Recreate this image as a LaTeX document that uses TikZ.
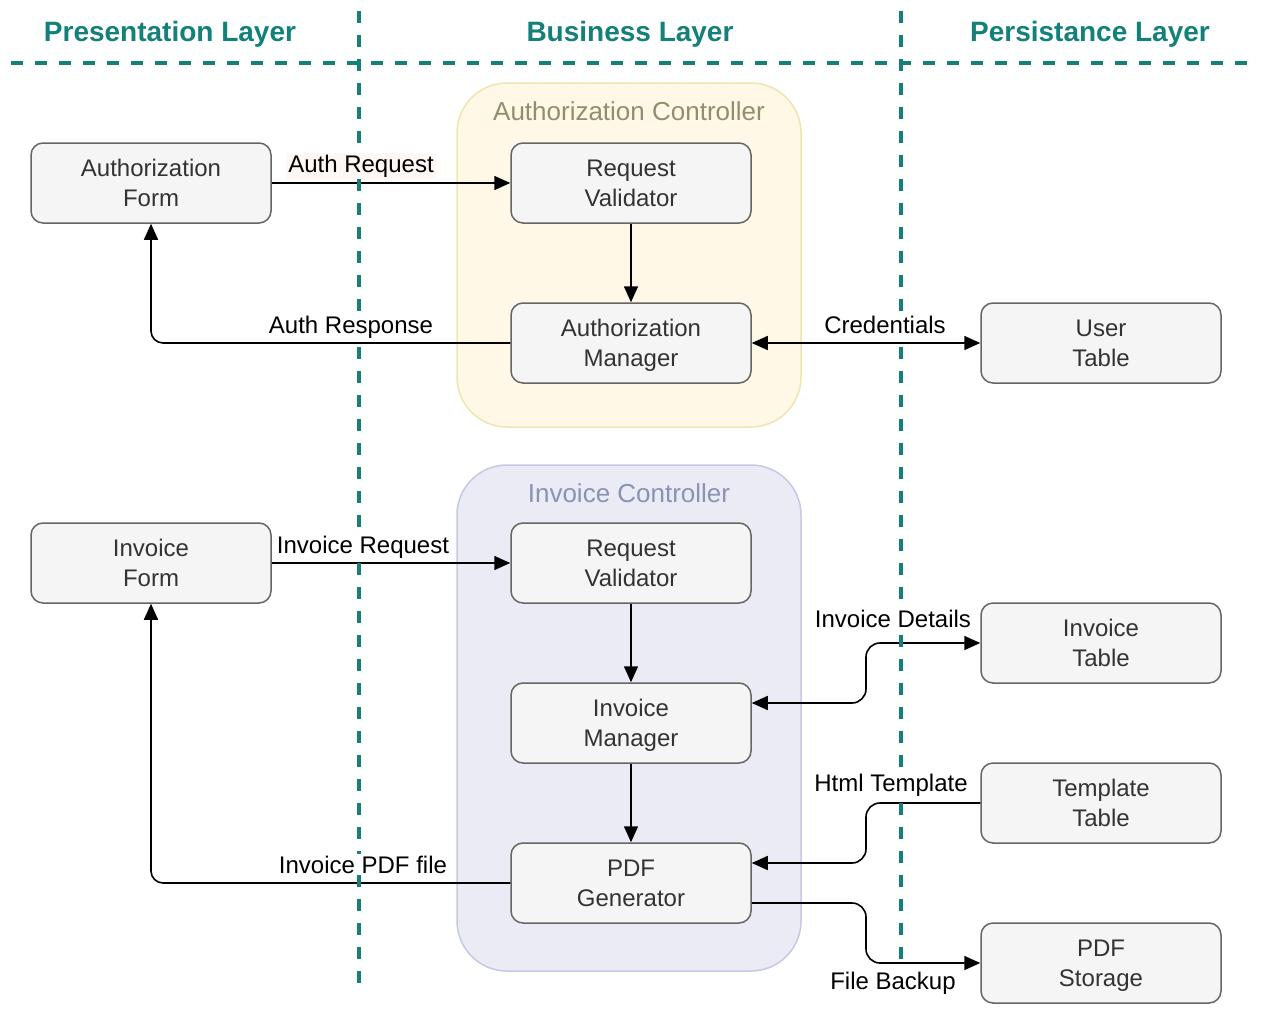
\documentclass[tikz,border=0pt]{standalone}
\usepackage{fontspec}
\setmainfont{Liberation Sans}
\usetikzlibrary{arrows.meta,calc}
\definecolor{layerc}{HTML}{13807A}
\definecolor{boxfill}{HTML}{F5F5F5}
\definecolor{boxline}{HTML}{666666}
\definecolor{boxtext}{HTML}{333333}
\definecolor{authfill}{HTML}{FFF8E6}
\definecolor{authline}{HTML}{EEE5B2}
\definecolor{authtext}{HTML}{958C70}
\definecolor{invfill}{HTML}{EBEBF5}
\definecolor{invline}{HTML}{C6C8E5}
\definecolor{invtext}{HTML}{8A93B3}
\definecolor{lblbg}{HTML}{FFF7F4}
\newcommand{\bxt}[2]{\rule{0pt}{17.5pt}#1\\\smash{#2}\rule[-1.5pt]{0pt}{1.5pt}}
\begin{document}
\begin{tikzpicture}[x=1pt,y=-1pt,
  >={Triangle[length=16pt,width=14pt]},
  compbox/.style={draw=boxline,fill=boxfill,rounded corners=12pt,line width=1.5pt,
    minimum width=240pt,minimum height=80pt,inner sep=0pt,text=boxtext,align=center,
    font=\fontsize{24}{30}\selectfont},
  ctrlbox/.style={rounded corners=50pt,line width=1.5pt,minimum width=344pt,inner sep=0pt},
  edge/.style={line width=1.6pt,black,->},
  biedge/.style={line width=1.6pt,black,<->},
  elabel/.style={anchor=base,font=\fontsize{24}{30}\selectfont,text=black,fill=white,inner sep=2pt},
  layertitle/.style={anchor=base,font=\bfseries\fontsize{28}{34}\selectfont,text=layerc},
  ctrltitle/.style={anchor=base,font=\fontsize{26}{32}\selectfont},
  layerline/.style={draw=layerc,line width=3.3pt,dash pattern=on 12pt off 12pt}
]
\useasboundingbox (0,0) rectangle (1262,1012);

% controllers
\node[ctrlbox,draw=authline,fill=authfill,minimum height=344pt] (authc) at (629,255) {};
\node[ctrlbox,draw=invline,fill=invfill,minimum height=506pt] (invc) at (629,718) {};
\node[ctrltitle,text=authtext] (authct) at (629,120) {Authorization Controller};
\node[ctrltitle,text=invtext] (invct) at (629,502) {Invoice Controller};

% components
\node[compbox] (af) at (151,183) {\bxt{Authorization}{Form}};
\node[compbox] (arv) at (631,183) {\bxt{Request}{Validator}};
\node[compbox] (am) at (631,343) {\bxt{Authorization}{Manager}};
\node[compbox] (ut) at (1101,343) {\bxt{User}{Table}};
\node[compbox] (ivf) at (151,563) {\bxt{Invoice}{Form}};
\node[compbox] (irv) at (631,563) {\bxt{Request}{Validator}};
\node[compbox] (im) at (631,723) {\bxt{Invoice}{Manager}};
\node[compbox] (pg) at (631,883) {\bxt{PDF}{Generator}};
\node[compbox] (it) at (1101,643) {\bxt{Invoice}{Table}};
\node[compbox] (tt) at (1101,803) {\bxt{Template}{Table}};
\node[compbox] (ps) at (1101,963) {\bxt{PDF}{Storage}};

% connectors
\draw[edge] (af.east) -- (arv.west);
\draw[edge] (arv.south) -- (am.north);
\draw[edge,rounded corners=12pt] (am.west) -| (af.south);
\draw[biedge] (am.east) -- (ut.west);
\draw[edge] (ivf.east) -- (irv.west);
\draw[edge] (irv.south) -- (im.north);
\draw[edge] (im.south) -- (pg.north);
\draw[biedge,rounded corners=14pt] ($(im.east)+(0,-20)$) -- (866,703) |- (it.west);
\draw[edge,rounded corners=14pt] (tt.west) -- (866,803) |- ($(pg.east)+(0,-20)$);
\draw[edge,rounded corners=14pt] ($(pg.east)+(0,20)$) -- (866,903) |- (ps.west);
\draw[edge,rounded corners=12pt] (pg.west) -| (ivf.south);

% layer separators
\draw[layerline] (11,63) -- (1250,63);
\draw[layerline] (359,11) -- (359,983);
\draw[layerline] (901,11) -- (901,959);

% layer titles
\node[layertitle] (tp) at (170,41) {Presentation Layer};
\node[layertitle] (tb) at (630,41) {Business Layer};
\node[layertitle] (tpe) at (1090,41) {Persistance Layer};

% edge labels
\node[elabel,fill=lblbg] (l1) at (361,172) {Auth Request};
\node[elabel] (l2) at (351,333) {Auth Response};
\node[elabel] (l3) at (885,333) {Credentials};
\node[elabel] (l4) at (363,553) {Invoice Request};
\node[elabel] (l5) at (893,627) {Invoice Details};
\node[elabel] (l6) at (891,791) {Html Template};
\node[elabel] (l7) at (363,873) {Invoice PDF file};
\node[elabel] (l8) at (893,989) {File Backup};
\end{tikzpicture}
\end{document}
